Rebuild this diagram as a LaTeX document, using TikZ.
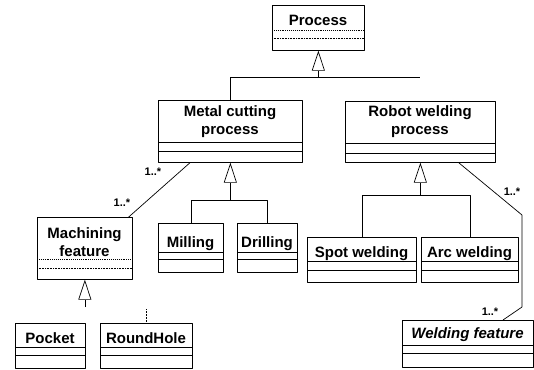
\documentclass[tikz,border=0pt]{standalone}
\usepackage{fontspec}
\setmainfont{Liberation Sans}
\usetikzlibrary{arrows.meta}
\tikzset{
  classbox/.style={draw,rectangle,inner sep=0pt,line width=0.7pt,anchor=north west},
  classname/.style={font=\bfseries\fontsize{15}{18}\selectfont,inner sep=0pt,align=center},
  mult/.style={font=\bfseries\fontsize{11}{13}\selectfont,inner sep=0pt},
  inh/.style={-{Triangle[open,length=20pt,width=13pt,line width=0.7pt]},line width=0.6pt},
  tree/.style={line width=0.5pt},
  assoc/.style={line width=0.7pt},
}
\begin{document}
\begin{tikzpicture}[x=1pt,y=-1pt,line join=round]
\useasboundingbox (0,0) rectangle (534,369);
% class boxes: name/left/top/right/bottom/first line/second line/style of the lines
\foreach \n/\xa/\ya/\xb/\yb/\ca/\cb/\s in {
  proc/272/5/364/50/30/38/densely dotted,
  mcp/158/100/302/162/142/151/solid,
  rwp/345/101/495/162/143/153/solid,
  mf/37/217/132/279/259/268/densely dotted,
  mil/158/223/223/272/252/259/solid,
  dri/237/223/297/272/252/259/solid,
  spw/307/237/416/282/261/270/solid,
  arw/421/237/518/282/261/270/solid,
  wf/402/320/533/367/345/353/solid,
  poc/15/323/85/368/347/355/solid,
  rh/100/323/192/368/347/355/solid}
{
  \node[classbox,minimum width={\xb-\xa},minimum height={\yb-\ya}] (\n) at (\xa,\ya) {};
  \draw[line width=0.9pt,\s] (\xa,\ca) -- (\xb,\ca);
  \draw[line width=0.6pt,\s] (\xa,\cb) -- (\xb,\cb);
}
% class names
\node[classname,anchor=base] (proc-t) at (318,26) {Process};
\node[classname,anchor=north] (mcp-t) at (230,105) {Metal cutting\\process};
\node[classname,anchor=north] (rwp-t) at (420,105) {Robot welding\\process};
\node[classname,anchor=north] (mf-t) at (84.5,227) {Machining\\feature};
\node[classname,anchor=base] (mil-t) at (190.5,247) {Milling};
\node[classname,anchor=base] (dri-t) at (267,247) {Drilling};
\node[classname,anchor=base] (spw-t) at (361.5,257) {Spot welding};
\node[classname,anchor=base] (arw-t) at (469.5,257) {Arc welding};
\node[classname,anchor=base,font=\bfseries\itshape\fontsize{15}{18}\selectfont] (wf-t) at (467.5,338) {Welding feature};
\node[classname,anchor=base] (poc-t) at (50,343) {Pocket};
\node[classname,anchor=base] (rh-t) at (146,343) {RoundHole};

% generalizations
\path
  (proc.south |- 0,77) coordinate (pjoin)
  (mcp.south |- 0,200) coordinate (mjoin)
  (rwp.south |- 0,195) coordinate (rjoin)
  (mf.south |- 0,307) coordinate (fstub)
  (rh.north |- 0,308) coordinate (rhstub)
  ;
\draw[inh] (pjoin) -- (proc.south);
\draw[tree] (mcp.north) -- (mcp.north |- pjoin) -- (rwp.north |- pjoin);
\draw[inh] (mjoin) -- (mcp.south);
\draw[tree] (mil.north) |- (dri.north |- mjoin) -- (dri.north);
\draw[inh] (rjoin) -- (rwp.south);
\draw[tree] (spw.north) |- (arw.north |- rjoin) -- (arw.north);
\draw[inh] (fstub) -- (mf.south);
\draw[tree,densely dotted] (rh.north) -- (rhstub);

% associations
\path (522,215) coordinate (wb1) (522,307) coordinate (wb2);
\draw[assoc] ([xshift=32pt]mcp.south west) -- ([xshift=-4pt]mf.north east);
\draw[assoc] ([xshift=-37pt]rwp.south east) -- (wb1) -- (wb2) -- ([xshift=101pt]wf.north west);
\node[mult] (m1) at (153,172) {1..*};
\node[mult] (m2) at (122,203) {1..*};
\node[mult] (m3) at (512,192) {1..*};
\node[mult] (m4) at (490,312) {1..*};
\end{tikzpicture}
\end{document}
